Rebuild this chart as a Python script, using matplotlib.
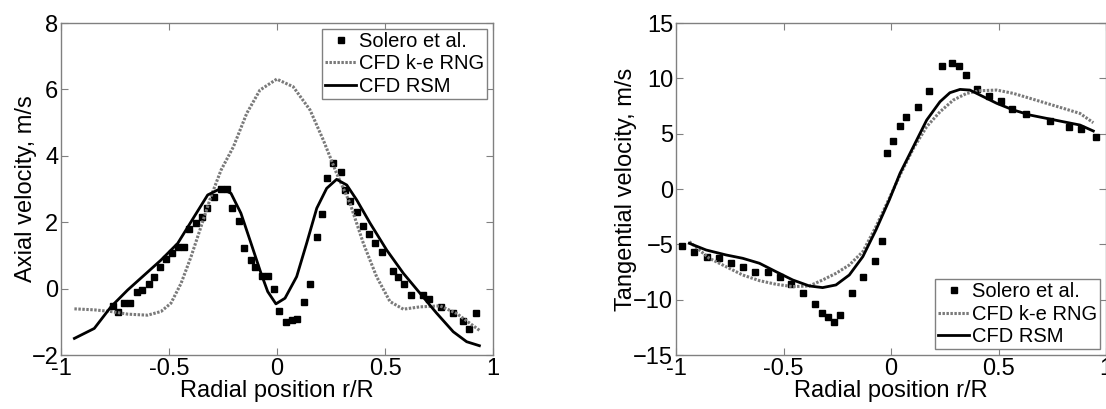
import numpy as np
import matplotlib.pyplot as plt

plt.rcParams['font.family'] = ['Liberation Sans', 'DejaVu Sans']
plt.rcParams['font.size'] = 17

# ---- axial velocity (left panel) ----
ax_exp_r = [-0.761, -0.735, -0.707, -0.679, -0.648, -0.624, -0.594, -0.568, -0.543,
            -0.512, -0.485, -0.457, -0.429, -0.407, -0.373, -0.346, -0.324, -0.293,
            -0.259, -0.233, -0.207, -0.175, -0.151, -0.120, -0.100, -0.069, -0.040,
            -0.012, 0.011, 0.042, 0.069, 0.094, 0.125, 0.153, 0.184, 0.208, 0.233,
            0.258, 0.296, 0.316, 0.339, 0.372, 0.400, 0.426, 0.455, 0.488, 0.539,
            0.559, 0.588, 0.619, 0.675, 0.705, 0.758, 0.813, 0.863, 0.890, 0.921]
ax_exp_v = [-0.51, -0.70, -0.44, -0.44, -0.09, -0.04, 0.14, 0.34, 0.66,
            0.88, 1.08, 1.26, 1.26, 1.80, 1.97, 2.15, 2.42, 2.75,
            3.01, 3.01, 2.42, 2.05, 1.23, 0.86, 0.66, 0.39, 0.39,
            -0.02, -0.67, -1.00, -0.95, -0.91, -0.41, 0.14, 1.56, 2.25, 3.34,
            3.77, 3.52, 2.97, 2.64, 2.30, 1.88, 1.64, 1.38, 1.11, 0.54,
            0.34, 0.15, -0.20, -0.19, -0.31, -0.55, -0.73, -0.97, -1.23, -0.73]

ax_rng_r = [-0.938, -0.846, -0.769, -0.691, -0.599, -0.537, -0.491, -0.444, -0.398,
            -0.352, -0.306, -0.259, -0.202, -0.140, -0.079, -0.001, 0.075, 0.153,
            0.214, 0.276, 0.338, 0.400, 0.461, 0.523, 0.585, 0.662, 0.755, 0.832,
            0.894, 0.940]
ax_rng_v = [-0.61, -0.64, -0.69, -0.77, -0.80, -0.69, -0.44, 0.16, 0.96,
            1.86, 2.77, 3.57, 4.27, 5.28, 5.98, 6.31, 6.08, 5.38,
            4.48, 3.47, 2.57, 1.36, 0.36, -0.39, -0.62, -0.55, -0.52, -0.75,
            -1.05, -1.27]

ax_rsm_r = [-0.938, -0.846, -0.769, -0.691, -0.614, -0.537, -0.460, -0.383, -0.321,
            -0.259, -0.213, -0.167, -0.120, -0.074, -0.043, -0.005, 0.037, 0.091,
            0.137, 0.184, 0.230, 0.276, 0.323, 0.369, 0.431, 0.508, 0.585, 0.662,
            0.739, 0.816, 0.878, 0.937]
ax_rsm_v = [-1.50, -1.20, -0.55, -0.04, 0.41, 0.86, 1.36, 2.17, 2.82,
            3.02, 2.87, 2.27, 1.36, 0.46, -0.09, -0.46, -0.29, 0.36,
            1.36, 2.42, 3.02, 3.29, 3.12, 2.67, 1.97, 1.16, 0.46, -0.14,
            -0.74, -1.30, -1.60, -1.72]

# ---- tangential velocity (right panel) ----
tg_exp_r = [-0.974, -0.915, -0.857, -0.798, -0.744, -0.690, -0.633, -0.571, -0.516,
            -0.465, -0.408, -0.355, -0.321, -0.291, -0.264, -0.237, -0.183, -0.129,
            -0.074, -0.043, -0.017, 0.011, 0.042, 0.068, 0.124, 0.178, 0.237,
            0.282, 0.318, 0.347, 0.400, 0.456, 0.512, 0.563, 0.628, 0.740, 0.828,
            0.884, 0.952]
tg_exp_v = [-5.12, -5.69, -6.11, -6.26, -6.65, -7.02, -7.47, -7.47, -7.95,
            -8.61, -9.43, -10.42, -11.17, -11.60, -11.98, -11.40, -9.43, -7.98,
            -6.47, -4.67, 3.22, 4.34, 5.69, 6.53, 7.43, 8.88, 11.11,
            11.35, 11.11, 10.30, 9.06, 8.40, 7.95, 7.23, 6.75, 6.14, 5.57,
            5.39, 4.67]

tg_rng_r = [-0.938, -0.892, -0.845, -0.767, -0.690, -0.612, -0.535, -0.457, -0.380,
            -0.318, -0.256, -0.194, -0.131, -0.070, -0.008, 0.042, 0.104, 0.166,
            0.228, 0.290, 0.352, 0.414, 0.492, 0.569, 0.647, 0.724, 0.801, 0.879,
            0.941]
tg_rng_v = [-4.76, -5.51, -6.26, -7.02, -7.77, -8.28, -8.61, -8.82, -8.76,
            -8.22, -7.62, -6.87, -5.66, -3.40, -0.84, 1.26, 3.67, 5.63,
            6.98, 8.04, 8.64, 8.88, 8.94, 8.64, 8.19, 7.74, 7.29, 6.83,
            5.99]

tg_rsm_r = [-0.938, -0.860, -0.767, -0.690, -0.612, -0.535, -0.457, -0.380, -0.318,
            -0.256, -0.194, -0.131, -0.070, -0.008, 0.042, 0.104, 0.166, 0.228,
            0.274, 0.321, 0.367, 0.414, 0.492, 0.569, 0.647, 0.724, 0.801, 0.879,
            0.941]
tg_rsm_v = [-4.91, -5.51, -5.96, -6.26, -6.71, -7.47, -8.22, -8.76, -8.91,
            -8.67, -7.77, -6.11, -3.70, -0.99, 1.42, 3.82, 6.23, 7.89,
            8.70, 9.00, 8.94, 8.49, 7.74, 7.14, 6.68, 6.38, 6.08, 5.78,
            5.24]

fig = plt.figure(figsize=(11.06, 4.09), dpi=100)
ax1 = fig.add_axes([61/1106, 54/409, 432/1106, 332/409])
ax2 = fig.add_axes([676/1106, 54/409, 430/1106, 332/409])

dot = (0, (0.8, 0.5))
gray = '#808080'

for ax in (ax1, ax2):
    for s in ax.spines.values():
        s.set_color(gray)
        s.set_linewidth(1.0)
    ax.tick_params(direction='in', top=True, right=True, length=5,
                   color=gray, labelsize=17, pad=2)

leg_kw = dict(fontsize=14.5, handlelength=1.55, handletextpad=0.15,
              borderpad=0.15, labelspacing=0.18, borderaxespad=0.28,
              fancybox=False, framealpha=1, edgecolor=gray)

ax1.plot(ax_exp_r, ax_exp_v, 's', color='black', ms=4, label='Solero et al.')
ax1.plot(ax_rng_r, ax_rng_v, linestyle=dot, color='#7a7a7a', lw=2.2, label='CFD k-e RNG')
ax1.plot(ax_rsm_r, ax_rsm_v, '-', color='black', lw=2, label='CFD RSM')
ax1.set_xlim(-1, 1)
ax1.set_ylim(-2, 8)
ax1.set_xticks([-1, -0.5, 0, 0.5, 1])
ax1.set_xticklabels(['-1', '-0.5', '0', '0.5', '1'])
ax1.set_yticks([-2, 0, 2, 4, 6, 8])
ax1.set_xlabel('Radial position r/R', fontsize=17, labelpad=0)
ax1.set_ylabel('Axial velocity, m/s', fontsize=17, labelpad=-4)
ax1.legend(loc='upper right', **leg_kw)

ax2.plot(tg_exp_r, tg_exp_v, 's', color='black', ms=4, label='Solero et al.')
ax2.plot(tg_rng_r, tg_rng_v, linestyle=dot, color='#7a7a7a', lw=2.2, label='CFD k-e RNG')
ax2.plot(tg_rsm_r, tg_rsm_v, '-', color='black', lw=2, label='CFD RSM')
ax2.set_xlim(-1, 1)
ax2.set_ylim(-15, 15)
ax2.set_xticks([-1, -0.5, 0, 0.5, 1])
ax2.set_xticklabels(['-1', '-0.5', '0', '0.5', '1'])
ax2.set_yticks([-15, -10, -5, 0, 5, 10, 15])
ax2.set_xlabel('Radial position r/R', fontsize=17, labelpad=0)
ax2.set_ylabel('Tangential velocity, m/s', fontsize=17, labelpad=-3)
ax2.legend(loc='lower right', **leg_kw)

fig.savefig('out.png', dpi=100)
